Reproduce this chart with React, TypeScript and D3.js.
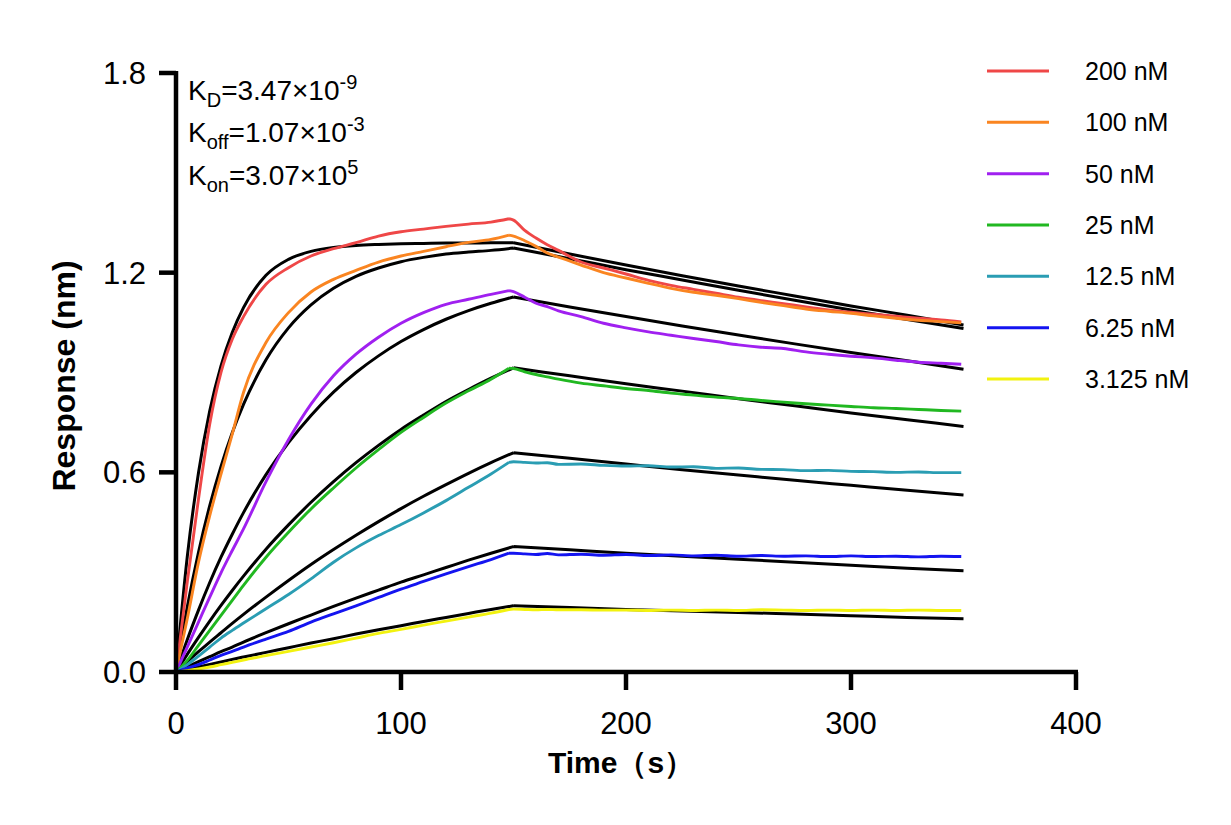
import React from "react";
import * as d3 from "d3";

// ---------- data ----------
const concentrations = ["200 nM", "100 nM", "50 nM", "25 nM", "12.5 nM", "6.25 nM", "3.125 nM"];
const seriesColors = ["#EF4747", "#FA8521", "#A020F0", "#21B821", "#2A9DB3", "#1414F0", "#F2F20F"];

const xTicks = [0, 100, 200, 300, 400];
const yTicks = [0, 0.6, 1.2, 1.8];
const yTickLabels = ["0.0", "0.6", "1.2", "1.8"];

// measured sensorgram time points (s)
const timeMeasured = [0, 5, 10, 15, 20, 25, 30, 40, 50, 60, 70, 80, 90, 100, 110, 120, 130, 140, 148, 150, 155, 160, 165, 170, 180, 190, 200, 210, 220, 230, 240, 250, 260, 270, 280, 290, 300, 310, 320, 330, 340, 349];

const measured200 = [0, 0.27, 0.52, 0.745, 0.9, 1.0, 1.068, 1.165, 1.215, 1.25, 1.272, 1.29, 1.31, 1.323, 1.331, 1.339, 1.346, 1.352, 1.362, 1.358, 1.327, 1.304, 1.284, 1.267, 1.232, 1.214, 1.196, 1.177, 1.162, 1.150, 1.138, 1.126, 1.116, 1.107, 1.097, 1.088, 1.081, 1.075, 1.069, 1.063, 1.058, 1.052];
const measured100 = [0, 0.16, 0.33, 0.47, 0.595, 0.715, 0.84, 0.99, 1.08, 1.142, 1.18, 1.207, 1.232, 1.25, 1.264, 1.278, 1.291, 1.3, 1.313, 1.31, 1.296, 1.279, 1.259, 1.247, 1.223, 1.2, 1.184, 1.168, 1.153, 1.141, 1.132, 1.122, 1.111, 1.101, 1.091, 1.084, 1.078, 1.07, 1.063, 1.057, 1.053, 1.049];
const measured50 = [0, 0.075, 0.15, 0.225, 0.298, 0.365, 0.43, 0.572, 0.698, 0.805, 0.89, 0.955, 1.006, 1.048, 1.08, 1.105, 1.12, 1.135, 1.146, 1.143, 1.126, 1.108, 1.098, 1.085, 1.068, 1.048, 1.034, 1.022, 1.012, 1.002, 0.993, 0.983, 0.976, 0.972, 0.962, 0.955, 0.949, 0.944, 0.937, 0.931, 0.928, 0.925];
const measured25 = [0, 0.035, 0.08, 0.125, 0.17, 0.215, 0.26, 0.345, 0.42, 0.49, 0.553, 0.613, 0.668, 0.72, 0.765, 0.808, 0.845, 0.88, 0.913, 0.912, 0.902, 0.894, 0.887, 0.88, 0.868, 0.86, 0.852, 0.846, 0.838, 0.832, 0.826, 0.822, 0.816, 0.811, 0.806, 0.802, 0.798, 0.794, 0.792, 0.789, 0.786, 0.784];
const measured12_5 = [0, 0.022, 0.048, 0.075, 0.102, 0.125, 0.147, 0.19, 0.233, 0.28, 0.33, 0.373, 0.41, 0.443, 0.478, 0.515, 0.555, 0.595, 0.63, 0.632, 0.63, 0.628, 0.629, 0.624, 0.625, 0.621, 0.619, 0.62, 0.616, 0.617, 0.612, 0.613, 0.609, 0.608, 0.605, 0.606, 0.603, 0.602, 0.6, 0.601, 0.599, 0.599];
const measured6_25 = [0, 0.012, 0.022, 0.036, 0.05, 0.062, 0.075, 0.099, 0.122, 0.15, 0.175, 0.199, 0.224, 0.249, 0.272, 0.295, 0.317, 0.338, 0.357, 0.357, 0.355, 0.353, 0.356, 0.352, 0.354, 0.351, 0.353, 0.35, 0.352, 0.349, 0.351, 0.348, 0.35, 0.348, 0.349, 0.347, 0.349, 0.347, 0.348, 0.346, 0.348, 0.347];
const measured3_125 = [0, 0.004, 0.009, 0.015, 0.022, 0.029, 0.036, 0.049, 0.062, 0.075, 0.088, 0.102, 0.116, 0.128, 0.141, 0.153, 0.165, 0.177, 0.188, 0.189, 0.188, 0.187, 0.188, 0.187, 0.187, 0.186, 0.186, 0.185, 0.186, 0.185, 0.186, 0.185, 0.187, 0.186, 0.185, 0.186, 0.185, 0.186, 0.185, 0.186, 0.185, 0.185];

// fitted curves time points (s)
const timeFit = [0, 5, 10, 15, 20, 25, 30, 40, 50, 60, 70, 80, 90, 100, 110, 120, 130, 140, 150, 175, 200, 225, 250, 275, 300, 325, 350];
const fit200 = [0, 0.346, 0.599, 0.785, 0.92, 1.02, 1.095, 1.192, 1.24, 1.264, 1.276, 1.282, 1.285, 1.287, 1.288, 1.289, 1.289, 1.29, 1.29, 1.256, 1.223, 1.191, 1.16, 1.13, 1.1, 1.072, 1.043];
const fit100 = [0, 0.195, 0.36, 0.5, 0.618, 0.719, 0.804, 0.938, 1.034, 1.103, 1.153, 1.189, 1.214, 1.233, 1.246, 1.256, 1.262, 1.267, 1.274, 1.242, 1.209, 1.178, 1.147, 1.117, 1.088, 1.059, 1.032];
const fit50 = [0, 0.097, 0.186, 0.269, 0.345, 0.414, 0.479, 0.593, 0.689, 0.771, 0.841, 0.9, 0.95, 0.993, 1.029, 1.06, 1.086, 1.108, 1.127, 1.097, 1.068, 1.04, 1.013, 0.986, 0.96, 0.935, 0.91];
const fit25 = [0, 0.053, 0.104, 0.153, 0.2, 0.245, 0.288, 0.369, 0.442, 0.51, 0.572, 0.629, 0.681, 0.729, 0.772, 0.813, 0.849, 0.883, 0.914, 0.89, 0.866, 0.844, 0.821, 0.8, 0.778, 0.758, 0.738];
const fit12_5 = [0, 0.031, 0.061, 0.09, 0.118, 0.146, 0.173, 0.225, 0.275, 0.323, 0.368, 0.411, 0.452, 0.491, 0.528, 0.563, 0.597, 0.629, 0.659, 0.642, 0.625, 0.608, 0.592, 0.576, 0.561, 0.546, 0.532];
const fit6_25 = [0, 0.016, 0.031, 0.046, 0.061, 0.075, 0.09, 0.118, 0.145, 0.171, 0.197, 0.222, 0.246, 0.27, 0.292, 0.314, 0.336, 0.357, 0.377, 0.367, 0.357, 0.348, 0.339, 0.33, 0.321, 0.312, 0.304];
const fit3_125 = [0, 0.008, 0.015, 0.023, 0.03, 0.038, 0.045, 0.059, 0.073, 0.087, 0.1, 0.114, 0.127, 0.139, 0.152, 0.164, 0.176, 0.188, 0.199, 0.194, 0.188, 0.183, 0.179, 0.174, 0.169, 0.164, 0.16];

const measuredSeries = [measured200, measured100, measured50, measured25, measured12_5, measured6_25, measured3_125];
const fitSeries = [fit200, fit100, fit50, fit25, fit12_5, fit6_25, fit3_125];
const fitSwitch = 150;
const measuredSwitch = 148;

const FONT = "Arial, 'Liberation Sans', Helvetica, sans-serif";

export default function App() {
  const W = 1231;
  const H = 825;
  const x = d3.scaleLinear().domain([0, 400]).range([176, 1076]);
  const y = d3.scaleLinear().domain([0, 1.8]).range([672, 73]);

  const smoothLine = d3
    .line<[number, number]>()
    .x((d) => x(d[0]))
    .y((d) => y(d[1]))
    .curve(d3.curveMonotoneX);

  const split = (times: number[], vals: number[], sw: number) => {
    const pts: [number, number][] = times.map((t, i) => [t, vals[i]]);
    const a = pts.filter((p) => p[0] <= sw);
    const b = pts.filter((p) => p[0] >= sw);
    return (smoothLine(a) || "") + (smoothLine(b) || "");
  };

  const fitPaths = fitSeries.map((vals) => split(timeFit, vals, fitSwitch));
  const measPaths = measuredSeries.map((vals) => split(timeMeasured, vals, measuredSwitch));

  const legendY = d3.scalePoint<string>().domain(concentrations).range([71, 379]);

  const annY = [100, 142, 185];

  return (
    <svg
      width={W}
      height={H}
      style={{ position: "absolute", left: 0, top: 0, background: "#fff" }}
      fontFamily={FONT}
    >
      <rect width={W} height={H} fill="#fff" />
      {/* data curves */}
      {fitPaths.map((d, i) => (
        <path key={"f" + i} d={d} fill="none" stroke="#000" strokeWidth={3} strokeLinejoin="round" />
      ))}
      {measPaths.map((d, i) => (
        <path key={"m" + i} d={d} fill="none" stroke={seriesColors[i]} strokeWidth={2.9} strokeLinejoin="round" />
      ))}

      {/* axes */}
      <line x1={x(0)} x2={x(0)} y1={y(1.8) - 2} y2={y(0) + 2} stroke="#000" strokeWidth={4.5} />
      <line x1={x(0) - 2} x2={x(400) + 2} y1={y(0)} y2={y(0)} stroke="#000" strokeWidth={4.5} />
      {xTicks.map((t) => (
        <g key={"xt" + t}>
          <line x1={x(t)} x2={x(t)} y1={y(0)} y2={y(0) + 18} stroke="#000" strokeWidth={4.5} />
          <text x={x(t)} y={734} textAnchor="middle" fontSize={31} fill="#000">
            {t}
          </text>
        </g>
      ))}
      {yTicks.map((t, i) => (
        <g key={"yt" + t}>
          <line x1={x(0) - 17} x2={x(0)} y1={y(t)} y2={y(t)} stroke="#000" strokeWidth={4.5} />
          <text x={146} y={y(t) + 11} textAnchor="end" fontSize={31} fill="#000">
            {yTickLabels[i]}
          </text>
        </g>
      ))}

      {/* axis titles */}
      <text x={621} y={773} textAnchor="middle" fontSize={30} fontWeight="bold" fill="#000">
        Time（s）
      </text>
      <text
        transform={`translate(75,376) rotate(-90)`}
        textAnchor="middle"
        fontSize={32}
        fontWeight="bold"
        fill="#000"
      >
        Response (nm)
      </text>

      {/* kinetic constants */}
      <text x={188} y={annY[0]} fontSize={28} fill="#000">
        K<tspan fontSize={20} dy={7}>D</tspan>
        <tspan dy={-7}>=3.47×10</tspan>
        <tspan fontSize={20} dy={-11}>-9</tspan>
      </text>
      <text x={188} y={annY[1]} fontSize={28} fill="#000">
        K<tspan fontSize={20} dy={7}>off</tspan>
        <tspan dy={-7}>=1.07×10</tspan>
        <tspan fontSize={20} dy={-11}>-3</tspan>
      </text>
      <text x={188} y={annY[2]} fontSize={28} fill="#000">
        K<tspan fontSize={20} dy={7}>on</tspan>
        <tspan dy={-7}>=3.07×10</tspan>
        <tspan fontSize={20} dy={-11}>5</tspan>
      </text>

      {/* legend */}
      {concentrations.map((c, i) => (
        <g key={"lg" + c}>
          <line x1={987} x2={1049} y1={legendY(c)} y2={legendY(c)} stroke={seriesColors[i]} strokeWidth={3} />
          <text x={1085} y={(legendY(c) as number) + 9} fontSize={25} fill="#000">
            {c}
          </text>
        </g>
      ))}
    </svg>
  );
}
